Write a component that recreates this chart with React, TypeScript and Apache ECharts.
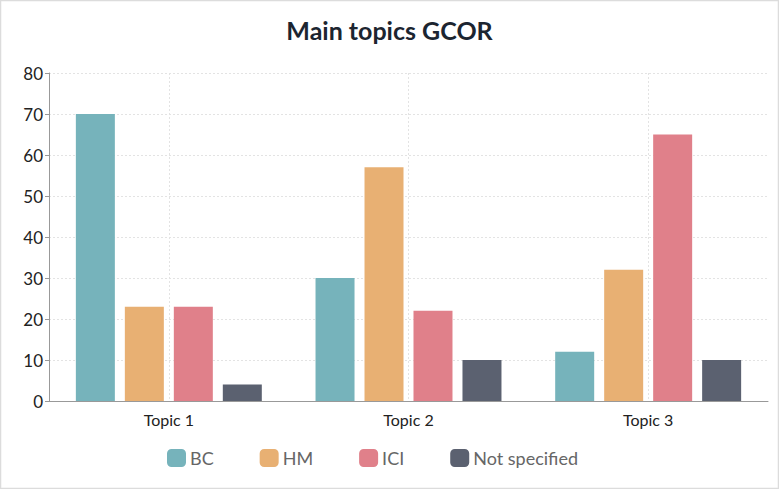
import React, { useEffect, useRef } from "react";
import * as echarts from "echarts";

const categories = ["Topic 1", "Topic 2", "Topic 3"];
const seriesNames = ["BC", "HM", "ICI", "Not specified"];
const bcValues = [70, 30, 12];
const hmValues = [23, 57, 32];
const iciValues = [23, 22, 65];
const nsValues = [4, 10, 10];
const colors = ["#76b3bb", "#e8b073", "#e0808a", "#5b6170"];
const gridHelper = ["", "", "", "", "", "", ""];

export default function App() {
  const ref = useRef<HTMLDivElement>(null);
  useEffect(() => {
    if (!ref.current) return;
    const chart = echarts.init(ref.current, undefined, { renderer: "svg" });
    const values = [bcValues, hmValues, iciValues, nsValues];
    chart.setOption({
      animation: false,
      textStyle: { fontFamily: "Lato" },
      title: {
        text: "Main topics GCOR",
        left: "center",
        top: 12,
        textStyle: { fontFamily: "Lato", fontSize: 25, fontWeight: "bold", color: "#1c2530" },
      },
      graphic: [
        {
          type: "rect",
          shape: { x: 0.5, y: 0.5, width: 778, height: 488 },
          style: { fill: "none", stroke: "#dcdcdc", lineWidth: 1.5 },
          silent: true,
        },
      ],
      legend: {
        top: 444,
        left: 162,
        itemWidth: 19,
        itemHeight: 18,
        itemGap: 46,
        icon: "roundRect",
        textStyle: { fontFamily: "Lato", fontSize: 18, color: "#666", padding: [0, 0, 0, -1] },
        data: seriesNames,
      },
      grid: { left: 49, right: 11, top: 73, bottom: 88 },
      xAxis: [
        {
          type: "category",
          data: categories,
          axisLine: { lineStyle: { color: "#999" } },
          axisTick: { alignWithLabel: true, length: 5, lineStyle: { color: "#999" } },
          axisLabel: { fontFamily: "Lato", fontSize: 16, color: "#222", margin: 10 },
          splitLine: { show: false },
        },
        {
          type: "category",
          data: gridHelper,
          boundaryGap: false,
          show: true,
          axisLine: { show: false },
          axisTick: { show: false },
          axisLabel: { show: false },
          splitLine: {
            show: true,
            interval: (i: number) => i % 2 === 1,
            lineStyle: { color: "#e3e3e3", type: [2, 2] },
          },
        },
      ],
      yAxis: {
        type: "value",
        min: 0,
        max: 80,
        interval: 10,
        axisLine: { show: true, lineStyle: { color: "#999" } },
        axisTick: { show: true, length: 4, lineStyle: { color: "#999" } },
        axisLabel: { fontFamily: "Lato", fontSize: 17, color: "#222", margin: 6 },
        splitLine: { lineStyle: { color: "#e3e3e3", type: [2, 2] } },
      },
      series: seriesNames.map((name, i) => ({
        name,
        type: "bar",
        data: values[i],
        barWidth: 39,
        barGap: "25.6%",
        itemStyle: { color: colors[i] },
      })),
    });
    return () => chart.dispose();
  }, []);
  return (
    <div
      ref={ref}
      style={{ position: "fixed", left: 0, top: 0, width: 779, height: 489, background: "#fff" }}
    />
  );
}
